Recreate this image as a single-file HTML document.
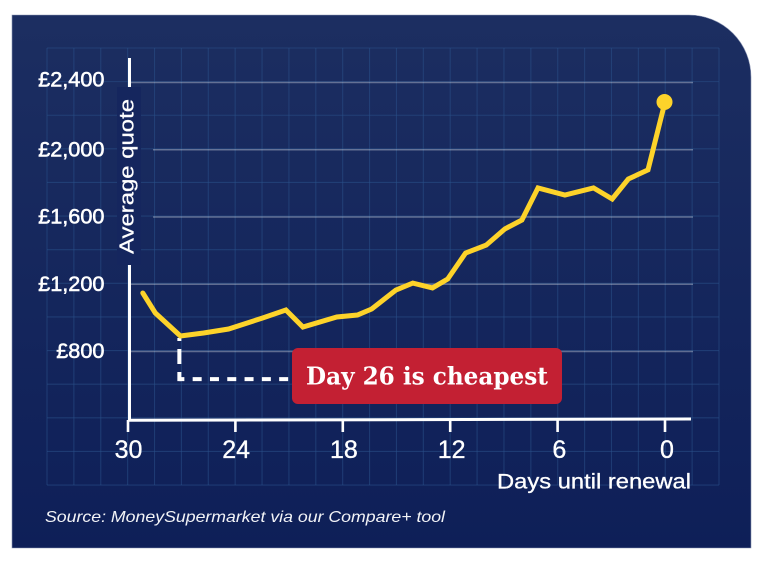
<!DOCTYPE html>
<html lang="en">
<head>
<meta charset="utf-8">
<title>Average quote by days until renewal</title>
<style>
html,body{margin:0;padding:0;background:#fff;width:768px;height:564px;overflow:hidden}
svg{display:block}
text{font-family:"Liberation Sans",sans-serif;fill:#fff}
</style>
</head>
<body>
<svg id="chart" width="768" height="564" viewBox="0 0 768 564" xmlns="http://www.w3.org/2000/svg">
  <defs>
    <linearGradient id="bg" x1="0" y1="0" x2="0" y2="1">
      <stop offset="0" stop-color="#1c2e61"/>
      <stop offset="1" stop-color="#0e1f58"/>
    </linearGradient>
  </defs>
  <path d="M12 15H689A62 62 0 0 1 751 77V548H12Z" fill="url(#bg)" stroke="#8d97b5" stroke-width="0.6"/>
  <g id="bg-grid"></g>
  <g id="y-grid"></g>
  <rect x="117" y="87" width="24" height="178" fill="#15265e"/>
  <g id="axes"></g>
  <text transform="translate(133.5,254) rotate(-90)" font-size="20.5" textLength="155" lengthAdjust="spacingAndGlyphs" stroke="#fff" stroke-width="0.25">Average quote</text>
  <g id="y-labels"></g>
  <g id="x-labels"></g>
  <text x="497" y="488.5" font-size="21" textLength="194" lengthAdjust="spacingAndGlyphs" stroke="#fff" stroke-width="0.3">Days until renewal</text>
  <g id="annotation"></g>
  <g id="series"></g>
  <rect x="292" y="348" width="270" height="56" rx="6" fill="#c32033"/>
  <text x="306" y="384.5" font-size="24" font-weight="bold" textLength="242" lengthAdjust="spacingAndGlyphs" style="font-family:'DejaVu Serif','Liberation Serif',serif">Day 26 is cheapest</text>
  <text x="45" y="522" font-size="16" font-style="italic" textLength="400" lengthAdjust="spacingAndGlyphs" fill-opacity="0.95">Source: MoneySupermarket via our Compare+ tool</text>
</svg>
<script>
const days = [29.2,28.5,27.1,25.8,24.4,22.5,21.2,20.25,18.35,17.2,16.4,15.05,14.1,13,12.15,11.15,10,8.95,8,7.1,5.6,4,2.95,2.05,0.95,0];
const quotes = [1148,1029,892,910,934,999,1047,946,1005,1017,1053,1166,1207,1178,1231,1386,1433,1529,1582,1773,1731,1773,1707,1826,1880,2284];
const yTicks = [2400,2000,1600,1200,800];
const yTickLabels = ['£2,400','£2,000','£1,600','£1,200','£800'];
const xTicks = [30,24,18,12,6,0];
const cheapestIndex = 2;
const annotationFloor = 636;

const NS = 'http://www.w3.org/2000/svg';
const xScale = d => 665 - (d * 536.5 / 30);
const xTickScale = d => 665 - (d * 17.9);
const xLabelScale = d => 667 - (d * 17.95);
const yScale = v => 351.5 - ((v - 800) * 67.25 / 400);

function make(tag, parent, attrs) {
  const el = document.createElementNS(NS, tag);
  for (const k in attrs) el.setAttribute(k, attrs[k]);
  parent.appendChild(el);
  return el;
}

const bgGrid = document.getElementById('bg-grid');
for (let i = 0; i <= 25; i++) {
  const gx = 47 + i * 26.88;
  const el = make('line', bgGrid, {x1: gx, x2: gx, y1: 48, y2: 485, stroke: '#2a5088', 'stroke-opacity': 0.55, 'stroke-width': 1.1});
  
  
}
for (let i = 0; i <= 13; i++) {
  const gy = 48 + i * 33.62;
  const el = make('line', bgGrid, {x1: 47, x2: 719, y1: gy, y2: gy, stroke: '#2a5088', 'stroke-opacity': 0.55, 'stroke-width': 1.1});
  
  
}

const yGrid = document.getElementById('y-grid');
const yLabels = document.getElementById('y-labels');
yTicks.forEach((v, i) => {
  const startX = (v === 2000 || v === 1600) ? 153 : 131;
  const line = make('line', yGrid, {x1: startX, x2: 693, y1: yScale(v), y2: yScale(v), stroke: '#fff', 'stroke-opacity': 0.32, 'stroke-width': 1.5});
  
  
  const labelOffset = v === 2400 ? 3.8 : 6.6;
  const t = make('text', yLabels, {x: 104.5, y: yScale(v) + labelOffset, 'text-anchor': 'end', 'font-size': 21.7, stroke: '#fff', 'stroke-width': 0.55});
  t.textContent = yTickLabels[i];
  
  
});

const axes = document.getElementById('axes');
const yAxisTop = make('line', axes, {x1: 129.5, x2: 129.5, y1: 58, y2: 87, stroke: '#fff', 'stroke-width': 3});


const yAxisBottom = make('line', axes, {x1: 129.5, x2: 129.5, y1: 265, y2: 421, stroke: '#fff', 'stroke-width': 3});


const xAxis = make('line', axes, {x1: 128, x2: 691, y1: 420.3, y2: 419, stroke: '#fff', 'stroke-width': 3});



const xLabels = document.getElementById('x-labels');
xTicks.forEach(d => {
  const tick = make('line', axes, {x1: xTickScale(d), x2: xTickScale(d), y1: 420, y2: 432, stroke: '#fff', 'stroke-width': 2.6});
  
  
  const t = make('text', xLabels, {x: xLabelScale(d), y: 458, 'text-anchor': 'middle', 'font-size': 25, stroke: '#fff', 'stroke-width': 0.35});
  t.textContent = d;
  
  
});

const annotation = document.getElementById('annotation');
const ax = xScale(days[cheapestIndex]) - 1;
const ay = yScale(annotationFloor);
const dashV = make('line', annotation, {x1: ax, x2: ax, y1: yScale(quotes[cheapestIndex]) + 2, y2: ay + 2, stroke: '#fff', 'stroke-width': 4, 'stroke-dasharray': '15 8', 'stroke-dashoffset': 12});


const dashH = make('line', annotation, {x1: ax, x2: 292, y1: ay, y2: ay, stroke: '#fff', 'stroke-width': 4, 'stroke-dasharray': '9 8.3', 'stroke-dashoffset': 4});



const series = document.getElementById('series');
const pts = days.map((d, i) => xScale(d).toFixed(1) + ',' + yScale(quotes[i]).toFixed(1)).join(' ');
const poly = make('polyline', series, {points: pts, fill: 'none', stroke: '#fdd32a', 'stroke-width': 5, 'stroke-linejoin': 'miter', 'stroke-linecap': 'round'});


const last = days.length - 1;
const dot = make('circle', series, {cx: xScale(days[last]) - 0.5, cy: yScale(quotes[last]), r: 8, fill: '#fdd32a'});


</script>
</body>
</html>
